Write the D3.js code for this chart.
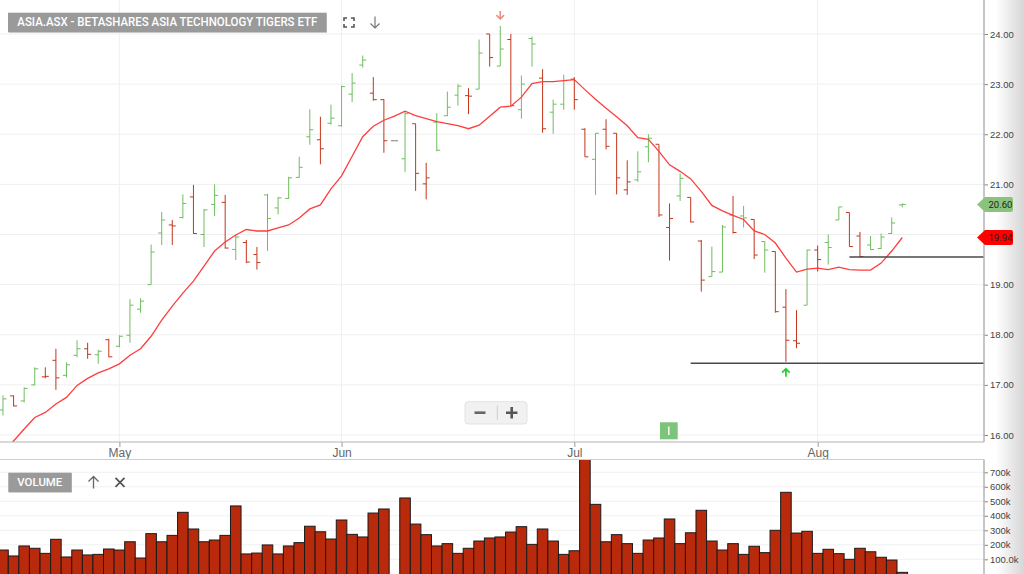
<!DOCTYPE html>
<html>
<head>
<meta charset="utf-8">
<script src="https://cdn.jsdelivr.net/npm/d3@7"></script>
<style>
html, body { margin: 0; padding: 0; background: #fff; overflow: hidden; }
svg { display: block; font-family: Roboto, "Liberation Sans", Arial, sans-serif; }
</style>
</head>
<body>
<svg id="chart" width="1024" height="574"></svg>
<script>
// trading days shown (ASX, 2020)
const dates = [
  '2020-04-16','2020-04-17','2020-04-20','2020-04-21','2020-04-22','2020-04-23','2020-04-24','2020-04-27','2020-04-28','2020-04-29','2020-04-30',
  '2020-05-01','2020-05-04','2020-05-05','2020-05-06','2020-05-07','2020-05-08','2020-05-11','2020-05-12','2020-05-13','2020-05-14','2020-05-15',
  '2020-05-18','2020-05-19','2020-05-20','2020-05-21','2020-05-22','2020-05-25','2020-05-26','2020-05-27','2020-05-28','2020-05-29',
  '2020-06-01','2020-06-02','2020-06-03','2020-06-04','2020-06-05','2020-06-08','2020-06-09','2020-06-10','2020-06-11','2020-06-12','2020-06-15',
  '2020-06-16','2020-06-17','2020-06-18','2020-06-19','2020-06-22','2020-06-23','2020-06-24','2020-06-25','2020-06-26','2020-06-29','2020-06-30',
  '2020-07-01','2020-07-02','2020-07-03','2020-07-06','2020-07-07','2020-07-08','2020-07-09','2020-07-10','2020-07-13','2020-07-14','2020-07-15',
  '2020-07-16','2020-07-17','2020-07-20','2020-07-21','2020-07-22','2020-07-23','2020-07-24','2020-07-27','2020-07-28','2020-07-29','2020-07-30','2020-07-31',
  '2020-08-03','2020-08-04','2020-08-05','2020-08-06','2020-08-07','2020-08-10','2020-08-11','2020-08-12','2020-08-13'
];

const opens = [
  16.50,16.78,16.68,17.00,17.16,17.49,17.19,17.59,17.72,17.60,17.90,
  17.77,17.99,18.51,19.00,20.03,20.19,20.34,20.75,20.00,20.60,20.64,
  19.70,19.84,19.60,20.79,20.53,20.72,21.14,21.95,21.89,22.22,
  22.17,22.80,23.38,22.82,22.69,21.87,21.51,22.21,21.01,22.24,22.37,
  22.78,22.77,22.90,24.00,23.36,23.89,22.49,23.91,23.12,22.44,22.60,
  23.10,22.10,21.50,22.10,22.02,20.89,21.09,21.75,21.80,20.14,20.77,
  20.74,19.87,19.16,19.25,20.39,20.37,20.30,19.86,19.66,18.55,17.88,18.59,
  19.69,19.84,20.29,20.44,19.97,19.79,19.72,20.02,20.59
];
const highs = [
  16.79,16.79,16.95,17.35,17.35,17.72,17.45,17.89,17.84,17.70,17.92,
  17.99,18.71,18.73,19.80,20.45,20.29,20.80,20.99,20.51,21.00,20.79,
  19.99,19.89,19.75,20.81,20.75,21.15,21.55,22.50,22.35,22.59,
  22.97,23.22,23.57,23.14,22.70,21.87,22.46,22.21,21.43,22.42,22.85,
  23.00,22.92,23.89,24.00,24.16,24.00,23.17,23.95,23.30,22.69,23.19,
  23.14,22.12,22.02,22.30,22.02,21.48,21.66,22.00,21.80,20.62,21.22,
  20.74,19.89,19.76,20.19,20.77,20.57,20.30,19.87,19.66,18.91,18.49,19.70,
  19.78,20.00,20.55,20.44,20.05,19.97,20.02,20.34,20.62
];
const lows = [
  16.39,16.57,16.65,16.99,17.13,16.90,17.15,17.55,17.52,17.42,17.55,
  17.75,17.84,18.44,19.00,19.79,19.79,20.32,20.01,19.75,20.37,19.72,
  19.49,19.43,19.30,19.67,20.40,20.71,21.13,21.79,21.40,22.19,
  22.15,22.64,23.33,22.67,21.63,21.87,21.25,20.87,20.70,21.66,22.36,
  22.57,22.40,22.90,23.35,23.36,22.56,22.31,23.35,22.03,22.01,22.49,
  22.49,21.55,20.79,21.70,20.80,20.79,21.05,21.44,20.35,19.48,20.67,
  20.24,18.86,19.16,19.25,20.02,20.14,19.51,19.24,18.44,17.46,17.73,18.59,
  19.26,19.40,20.29,19.76,19.54,19.69,19.71,20.01,20.54
];
const closes = [
  16.72,16.58,16.93,17.32,17.17,17.14,17.40,17.72,17.61,17.67,17.56,
  17.97,18.59,18.67,19.65,20.29,20.17,20.62,20.02,20.49,20.78,19.73,
  19.95,19.45,19.44,20.32,20.73,21.13,21.34,22.09,21.71,22.32,
  22.95,23.02,23.48,22.69,21.87,21.87,22.41,21.22,21.13,21.68,22.54,
  22.96,22.76,23.62,23.53,23.70,22.57,23.00,23.80,22.11,22.60,23.07,
  22.69,21.55,22.02,21.76,21.13,21.05,21.25,21.92,20.39,20.32,21.12,
  20.25,19.09,19.26,20.15,20.04,20.33,19.59,19.69,18.46,17.89,17.83,19.69,
  19.50,19.74,20.55,19.76,19.56,19.70,19.95,20.23,20.60
];
const volumes = [
  164000,123000,192000,176000,141000,238000,116000,164000,130000,134000,171000,
  164000,221000,109000,277000,221000,265000,424000,309000,221000,233000,265000,
  468000,137000,143000,199000,137000,192000,215000,328000,290000,240000,
  371000,272000,254000,419000,447000,0,523000,343000,270000,192000,208000,
  141000,176000,226000,247000,254000,288000,325000,203000,309000,226000,134000,
  159000,790000,479000,221000,270000,208000,141000,233000,247000,378000,208000,
  283000,438000,226000,164000,208000,134000,190000,146000,300000,562000,281000,293000,
  141000,169000,139000,100000,176000,152000,114000,95000,10000
];
// moving average as drawn on the chart
const maValues = [
  15.62,15.88,16.12,16.35,16.45,16.62,16.75,16.99,17.13,17.24,17.32,
  17.42,17.59,17.72,17.97,18.29,18.57,18.83,19.07,19.37,19.67,19.85,
  19.99,20.10,20.07,20.07,20.13,20.19,20.33,20.51,20.59,20.91,
  21.17,21.56,21.95,22.16,22.28,22.36,22.46,22.37,22.31,22.25,22.21,
  22.17,22.11,22.18,22.36,22.54,22.56,22.74,23.01,23.05,23.05,23.07,
  23.09,22.89,22.70,22.52,22.35,22.17,21.93,21.90,21.66,21.39,21.26,
  21.11,20.86,20.58,20.47,20.38,20.30,20.07,20.00,19.83,19.53,19.25,19.31,
  19.33,19.30,19.35,19.30,19.29,19.29,19.43,19.67,19.94
];

const priceTicks = [16, 17, 18, 19, 20, 21, 22, 23, 24];
const volumeTicks = [100000, 200000, 300000, 400000, 500000, 600000, 700000];
const volumeTickLabels = ['100.0k', '200k', '300k', '400k', '500k', '600k', '700k'];
const supportStart = [65, 80];
const supportPrice = [17.43, 19.55];
// swing markers: index of the marked high and the marked low
const swingHighIdx = 47;
const swingLowIdx = 74;

const titleText = 'ASIA.ASX - BETASHARES ASIA TECHNOLOGY TIGERS ETF';

// layout
const W = 1024, H = 574;
const axisX = 984;
const priceBottom = 442;
const volTop = 459.5, volBottom = 574;

const green = '#6fbd5e';
const red = '#c3361c';

const svg = d3.select('#chart');
const parse = d3.timeParse('%Y-%m-%d');
const fmtMonth = d3.timeFormat('%b');

const x = d3.scaleLinear().domain([0, dates.length - 1]).range([3, 902.3]);
const y = d3.scaleLinear().domain([16, 24]).range([435, 34]);
const yVol = d3.scaleLinear().domain([0, 700000]).range([573.8, 472.3]);
const step = x(1) - x(0);

const lastClose = closes[closes.length - 1];
const lastMa = maValues[maValues.length - 1];

// first trading day of each month
const monthIdx = dates.map((d, i) => i)
  .filter(i => i > 0 && dates[i].slice(5, 7) !== dates[i - 1].slice(5, 7));

const defs = svg.append('defs');
defs.append('clipPath').attr('id', 'clipPrice')
  .append('rect').attr('x', 0).attr('y', 0).attr('width', axisX).attr('height', priceBottom);
defs.append('clipPath').attr('id', 'clipVol')
  .append('rect').attr('x', 0).attr('y', volTop).attr('width', axisX).attr('height', volBottom - volTop);
const grad = defs.append('linearGradient').attr('id', 'edge').attr('x1', 0).attr('x2', 1);
grad.append('stop').attr('offset', 0).attr('stop-color', '#fff');
grad.append('stop').attr('offset', 1).attr('stop-color', '#d6d6d6');

// right edge shade
svg.append('rect').attr('x', 996).attr('y', 0).attr('width', W - 996).attr('height', H)
  .attr('fill', 'url(#edge)');

// grid
const grid = svg.append('g');
grid.selectAll('.hg').data(priceTicks).enter().append('line')
  .attr('x1', 0).attr('x2', axisX)
  .attr('y1', d => y(d)).attr('y2', d => y(d))
  .attr('stroke', '#efefef');
grid.selectAll('.vg').data(monthIdx).enter().append('line')
  .attr('x1', d => x(d)).attr('x2', d => x(d))
  .attr('y1', 0).attr('y2', priceBottom)
  .attr('stroke', '#efefef');
grid.selectAll('.vhg').data(volumeTicks).enter().append('line')
  .attr('x1', 0).attr('x2', axisX)
  .attr('y1', d => yVol(d)).attr('y2', d => yVol(d))
  .attr('stroke', '#f1f1f1');

// volume bars
svg.append('g').attr('clip-path', 'url(#clipVol)')
  .selectAll('rect').data(volumes).enter().append('rect')
  .attr('x', (d, i) => x(i) - step / 2)
  .attr('width', step)
  .attr('y', d => yVol(d))
  .attr('height', d => yVol(0) - yVol(d) + 2)
  .attr('fill', '#b82a0b')
  .attr('stroke', '#1b1b1b')
  .attr('stroke-width', 1)
  .style('display', d => d > 0 ? null : 'none');

// price content
const plot = svg.append('g').attr('clip-path', 'url(#clipPrice)');

function barColor(i) {
  if (volumes[i] === 0) return '#7a7a7a';
  const ref = i > 0 ? closes[i - 1] : opens[i];
  return closes[i] >= ref ? green : red;
}

plot.append('g').selectAll('path').data(closes).enter().append('path')
  .attr('d', (c, i) => {
    const cx = x(i);
    return `M${cx},${y(highs[i])}V${y(lows[i])}` +
      `M${cx - 3.5},${y(opens[i])}H${cx}` +
      `M${cx},${y(c)}H${cx + 3.5}`;
  })
  .attr('fill', 'none')
  .attr('stroke', (c, i) => barColor(i))
  .attr('stroke-width', 1);

const maLine = d3.line().x((d, i) => x(i)).y(d => y(d));
plot.append('path').datum(maValues)
  .attr('d', maLine)
  .attr('fill', 'none')
  .attr('stroke', '#ff3d3d')
  .attr('stroke-width', 1.3);

// support lines
plot.selectAll('.sup').data(supportPrice).enter().append('line')
  .attr('x1', (d, i) => x(supportStart[i])).attr('x2', axisX)
  .attr('y1', d => y(d)).attr('y2', d => y(d))
  .attr('stroke', '#4a4a4a').attr('stroke-width', 1.6);

// swing high / low markers
const hx = x(swingHighIdx), hy = y(highs[swingHighIdx]) - 7;
svg.append('path')
  .attr('d', `M${hx},${hy - 8}V${hy}M${hx - 3.8},${hy - 3.8}L${hx},${hy}L${hx + 3.8},${hy - 3.8}`)
  .attr('fill', 'none').attr('stroke', '#f08a80').attr('stroke-width', 1.6);
const lx = x(swingLowIdx), ly = y(lows[swingLowIdx]) + 7;
svg.append('path')
  .attr('d', `M${lx},${ly + 8}V${ly}M${lx - 3.8},${ly + 3.8}L${lx},${ly}L${lx + 3.8},${ly + 3.8}`)
  .attr('fill', 'none').attr('stroke', '#2fcc3a').attr('stroke-width', 1.8);

// axes
const axisColor = '#b3b3b3';
// tick labels hidden where a value tag sits on the axis
const visiblePriceTicks = priceTicks.filter(t =>
  Math.abs(y(t) - y(lastClose)) > 12 && Math.abs(y(t) - y(lastMa)) > 12);
const priceAxis = svg.append('g')
  .attr('transform', `translate(${axisX},0)`)
  .call(d3.axisRight(y).tickValues(visiblePriceTicks).tickFormat(d3.format('.2f')).tickSize(4).tickPadding(2));
priceAxis.select('.domain').remove();
priceAxis.selectAll('.tick line').attr('stroke', '#888');
priceAxis.selectAll('text').attr('fill', '#444').style('font-size', '9.5px');

const volAxis = svg.append('g')
  .attr('transform', `translate(${axisX},0)`)
  .call(d3.axisRight(yVol).tickValues(volumeTicks).tickFormat((d, i) => volumeTickLabels[i]).tickSize(4).tickPadding(2));
volAxis.select('.domain').remove();
volAxis.selectAll('.tick line').attr('stroke', '#888');
volAxis.selectAll('text').attr('fill', '#444').style('font-size', '9.5px');

const timeAxis = svg.append('g')
  .attr('transform', `translate(0,${priceBottom})`)
  .call(d3.axisBottom(x).tickValues(monthIdx).tickFormat(i => fmtMonth(parse(dates[i]))).tickSize(5).tickPadding(1));
timeAxis.select('.domain').remove();
timeAxis.selectAll('.tick line').attr('stroke', '#999');
timeAxis.selectAll('text').attr('fill', '#666').style('font-size', '12px');

svg.append('line').attr('x1', axisX).attr('x2', axisX).attr('y1', 0).attr('y2', priceBottom)
  .attr('stroke', axisColor).attr('stroke-width', 1.5);
svg.append('line').attr('x1', 0).attr('x2', axisX).attr('y1', priceBottom).attr('y2', priceBottom)
  .attr('stroke', axisColor).attr('stroke-width', 1.2);
svg.append('line').attr('x1', 0).attr('x2', axisX).attr('y1', volTop).attr('y2', volTop)
  .attr('stroke', '#cfcfcf').attr('stroke-width', 1.2);
svg.append('line').attr('x1', axisX).attr('x2', axisX).attr('y1', volTop).attr('y2', volBottom)
  .attr('stroke', axisColor).attr('stroke-width', 1.5);

// last price / MA tags on the axis
function axisTag(val, fill) {
  const cy = y(val);
  const g = svg.append('g');
  g.append('path')
    .attr('d', `M977,${cy}L985,${cy - 7.5}H1011Q1013,${cy - 7.5} 1013,${cy - 5.5}V${cy + 5.5}Q1013,${cy + 7.5} 1011,${cy + 7.5}H985Z`)
    .attr('fill', fill);
  g.append('text').attr('x', 988.5).attr('y', cy + 3.4)
    .attr('fill', '#222').style('font-size', '9.5px')
    .text(d3.format('.2f')(val));
}
axisTag(lastClose, '#8cc37c');
axisTag(lastMa, '#ff0000');

// title box
svg.append('rect').attr('x', 8.5).attr('y', 13.5).attr('width', 318.5).attr('height', 19.5)
  .attr('fill', '#c8c8c8');
svg.append('rect').attr('x', 8).attr('y', 12.7).attr('width', 318.5).attr('height', 19.3)
  .attr('fill', '#9a9a9a');
svg.append('text').attr('x', 17.3).attr('y', 26.3)
  .attr('fill', '#fff').style('font-size', '12px').style('font-weight', 500)
  .attr('textLength', 300).attr('lengthAdjust', 'spacingAndGlyphs')
  .text(titleText);

// fullscreen icon
svg.append('path')
  .attr('d', 'M344,21V18H347M351,18H354V21M354,24V27H351M347,27H344V24')
  .attr('fill', 'none').attr('stroke', '#555').attr('stroke-width', 1.6);
// download arrow
svg.append('path')
  .attr('d', 'M375,16.5V28M370.5,23.5L375,28L379.5,23.5')
  .attr('fill', 'none').attr('stroke', '#777').attr('stroke-width', 1.2);

// volume box
svg.append('rect').attr('x', 8.8).attr('y', 473.3).attr('width', 63).attr('height', 19.5)
  .attr('fill', '#c8c8c8');
svg.append('rect').attr('x', 8.3).attr('y', 472.7).attr('width', 63.4).attr('height', 19.3)
  .attr('fill', '#9a9a9a');
svg.append('text').attr('x', 17.3).attr('y', 486.3)
  .attr('fill', '#fff').style('font-size', '11.5px').style('font-weight', 500)
  .attr('textLength', 45).attr('lengthAdjust', 'spacingAndGlyphs')
  .text('VOLUME');
svg.append('path')
  .attr('d', 'M93.5,488.5V476.5M88.5,481.5L93.5,476.5L98.5,481.5')
  .attr('fill', 'none').attr('stroke', '#666').attr('stroke-width', 1.3);
svg.append('path')
  .attr('d', 'M115.5,477.8L124.5,486.8M124.5,477.8L115.5,486.8')
  .attr('fill', 'none').attr('stroke', '#555').attr('stroke-width', 1.8);

// zoom control
svg.append('rect').attr('x', 465).attr('y', 401.7).attr('width', 62).attr('height', 22.3).attr('rx', 3)
  .attr('fill', '#f1f1f1').attr('stroke', '#e2e2e2');
svg.append('line').attr('x1', 497.3).attr('x2', 497.3).attr('y1', 405.5).attr('y2', 420)
  .attr('stroke', '#cfcfcf');
svg.append('path').attr('d', 'M474.5,412.7H485.5')
  .attr('stroke', '#666').attr('stroke-width', 2.6);
svg.append('path').attr('d', 'M506,412.7H517.4M511.7,407V418.4')
  .attr('stroke', '#555').attr('stroke-width', 2.6);

// green marker badge
svg.append('rect').attr('x', 660).attr('y', 422.3).attr('width', 17.7).attr('height', 17)
  .attr('fill', '#7cc47a');
svg.append('line').attr('x1', 668.8).attr('x2', 668.8).attr('y1', 426.5).attr('y2', 435)
  .attr('stroke', '#fff').attr('stroke-width', 1.4);
</script>
</body>
</html>
